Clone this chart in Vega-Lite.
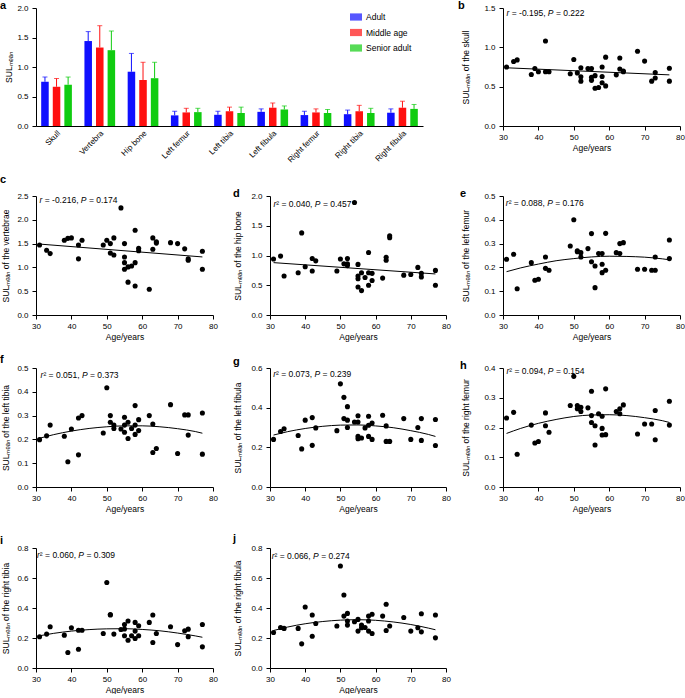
{
 "$schema": "https://vega.github.io/schema/vega-lite/v6.json",
 "padding": 0,
 "background": "white",
 "config": {
  "font": "Liberation Sans",
  "view": {"stroke": null},
  "axis": {"grid": false, "labelFontSize": 8, "titleFontSize": 8.5, "titleFontWeight": "normal", "tickSize": 4, "labelPadding": 3, "titlePadding": 2, "domainColor": "#000", "tickColor": "#000", "labelColor": "#000", "titleColor": "#000", "domainWidth": 1, "tickWidth": 1, "labelOverlap": false, "labelFlush": false},
  "axisY": {"labelPadding": 4},
  "text": {"fontSize": 8.5, "color": "#000", "align": "left", "baseline": "middle"},
  "title": {"fontSize": 11, "fontWeight": "bold", "anchor": "start", "frame": "group", "color": "#000"}
 },
 "datasets": {
  "bars": [
   {"bone": "Skull", "group": "Adult", "mean": 0.75, "upper": 0.83},
   {"bone": "Skull", "group": "Middle age", "mean": 0.665, "upper": 0.805},
   {"bone": "Skull", "group": "Senior adult", "mean": 0.70, "upper": 0.83},
   {"bone": "Vertebra", "group": "Adult", "mean": 1.44, "upper": 1.60},
   {"bone": "Vertebra", "group": "Middle age", "mean": 1.33, "upper": 1.70},
   {"bone": "Vertebra", "group": "Senior adult", "mean": 1.285, "upper": 1.61},
   {"bone": "Hip bone", "group": "Adult", "mean": 0.92, "upper": 1.23},
   {"bone": "Hip bone", "group": "Middle age", "mean": 0.78, "upper": 1.08},
   {"bone": "Hip bone", "group": "Senior adult", "mean": 0.81, "upper": 1.08},
   {"bone": "Left femur", "group": "Adult", "mean": 0.18, "upper": 0.25},
   {"bone": "Left femur", "group": "Middle age", "mean": 0.23, "upper": 0.30},
   {"bone": "Left femur", "group": "Senior adult", "mean": 0.235, "upper": 0.30},
   {"bone": "Left tibia", "group": "Adult", "mean": 0.19, "upper": 0.25},
   {"bone": "Left tibia", "group": "Middle age", "mean": 0.25, "upper": 0.32},
   {"bone": "Left tibia", "group": "Senior adult", "mean": 0.22, "upper": 0.32},
   {"bone": "Left fibula", "group": "Adult", "mean": 0.24, "upper": 0.29},
   {"bone": "Left fibula", "group": "Middle age", "mean": 0.31, "upper": 0.39},
   {"bone": "Left fibula", "group": "Senior adult", "mean": 0.28, "upper": 0.34},
   {"bone": "Right femur", "group": "Adult", "mean": 0.185, "upper": 0.25},
   {"bone": "Right femur", "group": "Middle age", "mean": 0.23, "upper": 0.29},
   {"bone": "Right femur", "group": "Senior adult", "mean": 0.22, "upper": 0.28},
   {"bone": "Right tibia", "group": "Adult", "mean": 0.20, "upper": 0.27},
   {"bone": "Right tibia", "group": "Middle age", "mean": 0.25, "upper": 0.35},
   {"bone": "Right tibia", "group": "Senior adult", "mean": 0.22, "upper": 0.30},
   {"bone": "Right fibula", "group": "Adult", "mean": 0.225, "upper": 0.29},
   {"bone": "Right fibula", "group": "Middle age", "mean": 0.31, "upper": 0.42},
   {"bone": "Right fibula", "group": "Senior adult", "mean": 0.29, "upper": 0.365}
  ],
  "b": [
   {"age":31,"sul":0.75},{"age":33,"sul":0.82},{"age":34,"sul":0.84},{"age":38,"sul":0.655},{"age":39,"sul":0.73},{"age":40,"sul":0.69},{"age":42,"sul":1.08},{"age":42,"sul":0.69},{"age":43,"sul":0.69},{"age":49,"sul":0.665},{"age":50,"sul":0.845},{"age":51,"sul":0.675},{"age":52,"sul":0.74},{"age":52,"sul":0.625},{"age":52,"sul":0.57},{"age":54,"sul":0.73},{"age":55,"sul":0.73},{"age":55,"sul":0.62},{"age":55,"sul":0.58},{"age":56,"sul":0.48},{"age":56,"sul":0.64},{"age":57,"sul":0.49},{"age":58,"sul":0.75},{"age":58,"sul":0.63},{"age":58,"sul":0.55},{"age":59,"sul":0.875},{"age":59,"sul":0.51},{"age":62,"sul":0.65},{"age":63,"sul":0.865},{"age":63,"sul":0.725},{"age":64,"sul":0.70},{"age":64,"sul":0.69},{"age":68,"sul":0.95},{"age":70,"sul":0.825},{"age":72,"sul":0.57},{"age":73,"sul":0.61},{"age":73,"sul":0.68},{"age":77,"sul":0.735},{"age":77,"sul":0.57}
  ],
  "b_fit": [{"age":31,"sul":0.74},{"age":77,"sul":0.65}],
  "c": [
   {"age":31,"sul":1.47},{"age":33,"sul":1.36},{"age":34,"sul":1.29},{"age":38,"sul":1.57},{"age":39,"sul":1.61},{"age":40,"sul":1.62},{"age":42,"sul":1.47},{"age":42,"sul":1.18},{"age":43,"sul":1.57},{"age":49,"sul":1.47},{"age":50,"sul":1.57},{"age":51,"sul":1.50},{"age":51,"sul":1.30},{"age":52,"sul":1.62},{"age":52,"sul":1.26},{"age":54,"sul":2.25},{"age":55,"sul":1.50},{"age":55,"sul":1.22},{"age":55,"sul":1.10},{"age":55,"sul":0.96},{"age":56,"sul":0.69},{"age":56,"sul":1.01},{"age":57,"sul":1.03},{"age":58,"sul":1.10},{"age":58,"sul":1.78},{"age":58,"sul":0.61},{"age":59,"sul":1.40},{"age":59,"sul":1.35},{"age":62,"sul":0.54},{"age":63,"sul":1.62},{"age":63,"sul":1.38},{"age":64,"sul":1.54},{"age":64,"sul":1.51},{"age":68,"sul":1.52},{"age":70,"sul":1.50},{"age":72,"sul":1.39},{"age":73,"sul":1.18},{"age":73,"sul":1.15},{"age":77,"sul":1.34},{"age":77,"sul":0.96}
  ],
  "c_fit": [{"age":31,"sul":1.49},{"age":77,"sul":1.22}],
  "d": [
   {"age":31,"sul":0.94},{"age":33,"sul":0.99},{"age":34,"sul":0.655},{"age":38,"sul":0.71},{"age":39,"sul":1.38},{"age":40,"sul":0.81},{"age":42,"sul":0.95},{"age":42,"sul":0.74},{"age":43,"sul":0.91},{"age":49,"sul":0.74},{"age":50,"sul":0.94},{"age":51,"sul":0.86},{"age":52,"sul":0.95},{"age":52,"sul":0.86},{"age":52,"sul":0.83},{"age":54,"sul":1.89},{"age":55,"sul":0.85},{"age":55,"sul":0.655},{"age":55,"sul":0.61},{"age":55,"sul":0.47},{"age":56,"sul":0.71},{"age":56,"sul":0.41},{"age":57,"sul":0.63},{"age":58,"sul":1.05},{"age":58,"sul":0.71},{"age":58,"sul":0.50},{"age":59,"sul":0.70},{"age":59,"sul":0.58},{"age":62,"sul":0.62},{"age":63,"sul":0.97},{"age":63,"sul":0.92},{"age":64,"sul":1.33},{"age":64,"sul":1.30},{"age":68,"sul":0.67},{"age":70,"sul":0.68},{"age":72,"sul":0.80},{"age":73,"sul":0.70},{"age":73,"sul":0.64},{"age":77,"sul":0.75},{"age":77,"sul":0.50}
  ],
  "d_fit": [{"age":31,"sul":0.88},{"age":77,"sul":0.69}],
  "e": [
   {"age":31,"sul":0.234},{"age":33,"sul":0.255},{"age":34,"sul":0.11},{"age":38,"sul":0.22},{"age":39,"sul":0.146},{"age":40,"sul":0.15},{"age":42,"sul":0.244},{"age":42,"sul":0.196},{"age":43,"sul":0.188},{"age":49,"sul":0.29},{"age":50,"sul":0.40},{"age":51,"sul":0.266},{"age":51,"sul":0.27},{"age":52,"sul":0.262},{"age":52,"sul":0.244},{"age":54,"sul":0.279},{"age":55,"sul":0.342},{"age":55,"sul":0.224},{"age":56,"sul":0.206},{"age":56,"sul":0.115},{"age":57,"sul":0.258},{"age":58,"sul":0.258},{"age":58,"sul":0.213},{"age":58,"sul":0.178},{"age":59,"sul":0.343},{"age":59,"sul":0.188},{"age":62,"sul":0.262},{"age":63,"sul":0.258},{"age":63,"sul":0.30},{"age":64,"sul":0.304},{"age":68,"sul":0.192},{"age":70,"sul":0.192},{"age":72,"sul":0.188},{"age":73,"sul":0.244},{"age":73,"sul":0.188},{"age":77,"sul":0.315},{"age":77,"sul":0.237}
  ],
  "e_fit": [{"age":31,"sul":0.182},{"age":35,"sul":0.198},{"age":40,"sul":0.214},{"age":45,"sul":0.228},{"age":50,"sul":0.237},{"age":55,"sul":0.244},{"age":60,"sul":0.247},{"age":65,"sul":0.246},{"age":70,"sul":0.243},{"age":75,"sul":0.236},{"age":77,"sul":0.232}],
  "f": [
   {"age":31,"sul":0.199},{"age":33,"sul":0.215},{"age":34,"sul":0.26},{"age":38,"sul":0.213},{"age":39,"sul":0.106},{"age":40,"sul":0.244},{"age":42,"sul":0.135},{"age":42,"sul":0.29},{"age":43,"sul":0.30},{"age":49,"sul":0.227},{"age":50,"sul":0.417},{"age":51,"sul":0.30},{"age":51,"sul":0.272},{"age":52,"sul":0.26},{"age":52,"sul":0.246},{"age":54,"sul":0.244},{"age":55,"sul":0.293},{"age":55,"sul":0.26},{"age":55,"sul":0.23},{"age":56,"sul":0.204},{"age":56,"sul":0.272},{"age":57,"sul":0.246},{"age":58,"sul":0.342},{"age":58,"sul":0.26},{"age":58,"sul":0.221},{"age":59,"sul":0.283},{"age":59,"sul":0.237},{"age":62,"sul":0.30},{"age":63,"sul":0.265},{"age":63,"sul":0.145},{"age":64,"sul":0.162},{"age":68,"sul":0.346},{"age":70,"sul":0.141},{"age":72,"sul":0.303},{"age":73,"sul":0.303},{"age":73,"sul":0.218},{"age":77,"sul":0.311},{"age":77,"sul":0.138}
  ],
  "f_fit": [{"age":31,"sul":0.205},{"age":35,"sul":0.22},{"age":40,"sul":0.235},{"age":45,"sul":0.246},{"age":50,"sul":0.253},{"age":55,"sul":0.257},{"age":60,"sul":0.257},{"age":65,"sul":0.253},{"age":70,"sul":0.245},{"age":75,"sul":0.233},{"age":77,"sul":0.226}],
  "g": [
   {"age":31,"sul":0.24},{"age":33,"sul":0.28},{"age":34,"sul":0.294},{"age":38,"sul":0.26},{"age":39,"sul":0.192},{"age":40,"sul":0.337},{"age":42,"sul":0.21},{"age":42,"sul":0.35},{"age":43,"sul":0.298},{"age":49,"sul":0.284},{"age":50,"sul":0.52},{"age":51,"sul":0.452},{"age":51,"sul":0.345},{"age":52,"sul":0.405},{"age":52,"sul":0.337},{"age":52,"sul":0.30},{"age":54,"sul":0.328},{"age":55,"sul":0.359},{"age":55,"sul":0.328},{"age":55,"sul":0.255},{"age":55,"sul":0.243},{"age":56,"sul":0.247},{"age":57,"sul":0.298},{"age":58,"sul":0.357},{"age":58,"sul":0.311},{"age":58,"sul":0.255},{"age":59,"sul":0.323},{"age":59,"sul":0.24},{"age":62,"sul":0.362},{"age":63,"sul":0.308},{"age":63,"sul":0.23},{"age":64,"sul":0.23},{"age":68,"sul":0.345},{"age":70,"sul":0.24},{"age":72,"sul":0.30},{"age":73,"sul":0.345},{"age":73,"sul":0.235},{"age":77,"sul":0.34},{"age":77,"sul":0.209}
  ],
  "g_fit": [{"age":31,"sul":0.262},{"age":35,"sul":0.279},{"age":40,"sul":0.295},{"age":45,"sul":0.306},{"age":50,"sul":0.312},{"age":55,"sul":0.313},{"age":60,"sul":0.308},{"age":65,"sul":0.299},{"age":70,"sul":0.284},{"age":75,"sul":0.265},{"age":77,"sul":0.255}],
  "h": [
   {"age":31,"sul":0.232},{"age":33,"sul":0.251},{"age":34,"sul":0.11},{"age":38,"sul":0.208},{"age":39,"sul":0.148},{"age":40,"sul":0.153},{"age":42,"sul":0.249},{"age":42,"sul":0.206},{"age":43,"sul":0.184},{"age":49,"sul":0.274},{"age":50,"sul":0.372},{"age":51,"sul":0.274},{"age":51,"sul":0.263},{"age":52,"sul":0.268},{"age":52,"sul":0.254},{"age":54,"sul":0.266},{"age":55,"sul":0.322},{"age":55,"sul":0.24},{"age":55,"sul":0.217},{"age":56,"sul":0.206},{"age":56,"sul":0.141},{"age":57,"sul":0.246},{"age":58,"sul":0.238},{"age":58,"sul":0.197},{"age":58,"sul":0.175},{"age":59,"sul":0.33},{"age":59,"sul":0.176},{"age":62,"sul":0.254},{"age":63,"sul":0.246},{"age":63,"sul":0.263},{"age":64,"sul":0.276},{"age":68,"sul":0.178},{"age":70,"sul":0.212},{"age":72,"sul":0.212},{"age":73,"sul":0.257},{"age":73,"sul":0.159},{"age":77,"sul":0.288},{"age":77,"sul":0.208}
  ],
  "h_fit": [{"age":31,"sul":0.18},{"age":35,"sul":0.197},{"age":40,"sul":0.214},{"age":45,"sul":0.227},{"age":50,"sul":0.237},{"age":55,"sul":0.242},{"age":60,"sul":0.243},{"age":65,"sul":0.24},{"age":70,"sul":0.233},{"age":75,"sul":0.223},{"age":77,"sul":0.217}],
  "i": [
   {"age":31,"sul":0.208},{"age":33,"sul":0.226},{"age":34,"sul":0.275},{"age":38,"sul":0.219},{"age":39,"sul":0.103},{"age":40,"sul":0.268},{"age":42,"sul":0.252},{"age":42,"sul":0.125},{"age":43,"sul":0.252},{"age":49,"sul":0.23},{"age":50,"sul":0.57},{"age":51,"sul":0.357},{"age":51,"sul":0.353},{"age":52,"sul":0.226},{"age":54,"sul":0.257},{"age":55,"sul":0.29},{"age":55,"sul":0.215},{"age":55,"sul":0.26},{"age":56,"sul":0.313},{"age":56,"sul":0.185},{"age":57,"sul":0.215},{"age":58,"sul":0.304},{"age":58,"sul":0.246},{"age":58,"sul":0.197},{"age":59,"sul":0.282},{"age":59,"sul":0.215},{"age":62,"sul":0.304},{"age":63,"sul":0.353},{"age":63,"sul":0.17},{"age":64,"sul":0.23},{"age":68,"sul":0.275},{"age":70,"sul":0.156},{"age":72,"sul":0.248},{"age":73,"sul":0.259},{"age":73,"sul":0.208},{"age":77,"sul":0.29},{"age":77,"sul":0.141}
  ],
  "i_fit": [{"age":31,"sul":0.215},{"age":35,"sul":0.231},{"age":40,"sul":0.246},{"age":45,"sul":0.256},{"age":50,"sul":0.261},{"age":55,"sul":0.262},{"age":60,"sul":0.257},{"age":65,"sul":0.248},{"age":70,"sul":0.233},{"age":75,"sul":0.214},{"age":77,"sul":0.205}],
  "j": [
   {"age":31,"sul":0.237},{"age":33,"sul":0.27},{"age":34,"sul":0.264},{"age":38,"sul":0.264},{"age":39,"sul":0.161},{"age":40,"sul":0.407},{"age":42,"sul":0.353},{"age":42,"sul":0.212},{"age":43,"sul":0.297},{"age":49,"sul":0.28},{"age":50,"sul":0.68},{"age":51,"sul":0.487},{"age":51,"sul":0.346},{"age":52,"sul":0.364},{"age":52,"sul":0.313},{"age":52,"sul":0.286},{"age":54,"sul":0.308},{"age":55,"sul":0.324},{"age":55,"sul":0.246},{"age":56,"sul":0.286},{"age":56,"sul":0.268},{"age":57,"sul":0.27},{"age":58,"sul":0.346},{"age":58,"sul":0.313},{"age":58,"sul":0.246},{"age":59,"sul":0.358},{"age":59,"sul":0.23},{"age":62,"sul":0.346},{"age":63,"sul":0.425},{"age":63,"sul":0.25},{"age":64,"sul":0.28},{"age":68,"sul":0.337},{"age":70,"sul":0.246},{"age":72,"sul":0.268},{"age":73,"sul":0.362},{"age":73,"sul":0.241},{"age":77,"sul":0.353},{"age":77,"sul":0.201}
  ],
  "j_fit": [{"age":31,"sul":0.25},{"age":35,"sul":0.273},{"age":40,"sul":0.295},{"age":45,"sul":0.31},{"age":50,"sul":0.319},{"age":55,"sul":0.322},{"age":60,"sul":0.318},{"age":65,"sul":0.307},{"age":70,"sul":0.29},{"age":75,"sul":0.266},{"age":77,"sul":0.255}]
 },
 "spacing": 10,
 "vconcat": [
  {
   "bounds": "flush",
   "spacing": 80,
   "hconcat": [
    {
     "width": 387, "height": 118,
     "title": {"text": "a", "dx": -36, "offset": -7},
     "data": {"name": "bars"},
     "encoding": {
      "x": {"field": "bone", "type": "nominal", "sort": ["Skull","Vertebra","Hip bone","Left femur","Left tibia","Left fibula","Right femur","Right tibia","Right fibula"], "scale": {"paddingInner": 0.29, "paddingOuter": 0.12}, "axis": {"title": null, "labelAngle": -45, "ticks": false, "labelFontSize": 8, "labelOverlap": false}},
      "xOffset": {"field": "group", "type": "nominal", "sort": ["Adult","Middle age","Senior adult"], "scale": {"paddingInner": 0.35, "paddingOuter": 0}},
      "color": {"field": "group", "type": "nominal", "scale": {"domain": ["Adult","Middle age","Senior adult"], "range": ["#1010ff","#ff1010","#10cc10"]}, "legend": {"orient": "none", "legendX": 314, "legendY": 3, "title": null, "symbolType": "M-1,-0.6H1V0.6H-1Z", "symbolSize": 144, "symbolStrokeWidth": 0, "labelFontSize": 8.5, "labelColor": "#000", "rowPadding": 4.5, "padding": 0, "labelOffset": 4}}
     },
     "layer": [
      {"mark": {"type": "bar"}, "encoding": {"y": {"field": "mean", "type": "quantitative", "scale": {"domain": [0, 2], "nice": false}, "axis": {"title": "SULₘₑₐₙ", "values": [0, 0.5, 1, 1.5, 2], "tickCount": 20, "format": ".1f", "titlePadding": 3, "labelOverlap": false}}}},
      {"mark": {"type": "rule", "strokeWidth": 1}, "encoding": {"y": {"field": "mean", "type": "quantitative"}, "y2": {"field": "upper"}}},
      {"mark": {"type": "tick", "thickness": 1, "size": 5}, "encoding": {"y": {"field": "upper", "type": "quantitative"}}}
     ]
    },
    {
     "width": 177, "height": 118,
     "title": {"text": "b", "dx": -45, "offset": -7},
     "layer": [
      {"data": {"name": "b"}, "mark": {"type": "circle", "size": 26, "opacity": 1, "color": "#000"},
       "encoding": {"x": {"field": "age", "type": "quantitative", "scale": {"domain": [30, 80], "nice": false, "zero": false}, "axis": {"title": "Age/years", "values": [30,40,50,60,70,80], "tickCount": 20, "labelOverlap": false}},
                    "y": {"field": "sul", "type": "quantitative", "scale": {"domain": [0, 1.5], "nice": false}, "axis": {"title": "SULₘₑₐₙ of the skull", "values": [0,0.5,1,1.5], "tickCount": 20, "format": ".1f", "titlePadding": 13, "labelOverlap": false}}}},
      {"data": {"name": "b_fit"}, "mark": {"type": "line", "color": "#000", "strokeWidth": 1}, "encoding": {"x": {"field": "age", "type": "quantitative"}, "y": {"field": "sul", "type": "quantitative"}}},
      {"data": {"values": [{"t": "r"}]}, "mark": {"type": "text", "dy": 5, "fontStyle": "italic"}, "encoding": {"x": {"datum": 31}, "y": {"datum": 1.5}, "text": {"field": "t"}}},
      {"data": {"values": [{"t": "= -0.195,"}]}, "mark": {"type": "text", "dy": 5, "dx": 5.2}, "encoding": {"x": {"datum": 31}, "y": {"datum": 1.5}, "text": {"field": "t"}}},
      {"data": {"values": [{"t": "P"}]}, "mark": {"type": "text", "dy": 5, "dx": 41.3, "fontStyle": "italic"}, "encoding": {"x": {"datum": 31}, "y": {"datum": 1.5}, "text": {"field": "t"}}},
      {"data": {"values": [{"t": "= 0.222"}]}, "mark": {"type": "text", "dy": 5, "dx": 49.4}, "encoding": {"x": {"datum": 31}, "y": {"datum": 1.5}, "text": {"field": "t"}}}
     ]
    }
   ]
  },
  {
   "spacing": 13,
   "vconcat": [
    {
     "bounds": "flush",
     "spacing": 57,
     "hconcat": [
      {
       "width": 177, "height": 119,
       "title": {"text": "c", "dx": -36, "offset": 7},
       "layer": [
        {"data": {"name": "c"}, "mark": {"type": "circle", "size": 26, "opacity": 1, "color": "#000"},
         "encoding": {"x": {"field": "age", "type": "quantitative", "scale": {"domain": [30, 80], "nice": false, "zero": false}, "axis": {"title": "Age/years", "values": [30,40,50,60,70,80], "tickCount": 20, "labelOverlap": false}},
                      "y": {"field": "sul", "type": "quantitative", "scale": {"domain": [0, 2.5], "nice": false}, "axis": {"title": "SULₘₑₐₙ of the vertebrae", "values": [0,0.5,1,1.5,2,2.5], "tickCount": 20, "format": ".1f", "titlePadding": 6, "labelOverlap": false}}}},
        {"data": {"name": "c_fit"}, "mark": {"type": "line", "color": "#000", "strokeWidth": 1}, "encoding": {"x": {"field": "age", "type": "quantitative"}, "y": {"field": "sul", "type": "quantitative"}}},
        {"data": {"values": [{"t": "r"}]}, "mark": {"type": "text", "dy": 4, "fontStyle": "italic"}, "encoding": {"x": {"datum": 31}, "y": {"datum": 2.5}, "text": {"field": "t"}}},
        {"data": {"values": [{"t": "= -0.216,"}]}, "mark": {"type": "text", "dy": 4, "dx": 5.2}, "encoding": {"x": {"datum": 31}, "y": {"datum": 2.5}, "text": {"field": "t"}}},
        {"data": {"values": [{"t": "P"}]}, "mark": {"type": "text", "dy": 4, "dx": 41.3, "fontStyle": "italic"}, "encoding": {"x": {"datum": 31}, "y": {"datum": 2.5}, "text": {"field": "t"}}},
        {"data": {"values": [{"t": "= 0.174"}]}, "mark": {"type": "text", "dy": 4, "dx": 49.4}, "encoding": {"x": {"datum": 31}, "y": {"datum": 2.5}, "text": {"field": "t"}}}
       ]
      },
      {
       "width": 176, "height": 119,
       "title": {"text": "d", "dx": -37, "offset": -7},
       "layer": [
        {"data": {"name": "d"}, "mark": {"type": "circle", "size": 26, "opacity": 1, "color": "#000"},
         "encoding": {"x": {"field": "age", "type": "quantitative", "scale": {"domain": [30, 80], "nice": false, "zero": false}, "axis": {"title": "Age/years", "values": [30,40,50,60,70,80], "tickCount": 20, "labelOverlap": false}},
                      "y": {"field": "sul", "type": "quantitative", "scale": {"domain": [0, 2], "nice": false}, "axis": {"title": "SULₘₑₐₙ of the hip bone", "values": [0,0.5,1,1.5,2], "tickCount": 20, "format": ".1f", "titlePadding": 8, "labelOverlap": false}}}},
        {"data": {"name": "d_fit"}, "mark": {"type": "line", "color": "#000", "strokeWidth": 1}, "encoding": {"x": {"field": "age", "type": "quantitative"}, "y": {"field": "sul", "type": "quantitative"}}},
        {"data": {"values": [{"t": "r"}]}, "mark": {"type": "text", "dy": 8, "fontStyle": "italic"}, "encoding": {"x": {"datum": 31}, "y": {"datum": 2}, "text": {"field": "t"}}},
        {"data": {"values": [{"t": "² = 0.040,"}]}, "mark": {"type": "text", "dy": 8, "dx": 2.8}, "encoding": {"x": {"datum": 31}, "y": {"datum": 2}, "text": {"field": "t"}}},
        {"data": {"values": [{"t": "P"}]}, "mark": {"type": "text", "dy": 8, "dx": 41.3, "fontStyle": "italic"}, "encoding": {"x": {"datum": 31}, "y": {"datum": 2}, "text": {"field": "t"}}},
        {"data": {"values": [{"t": "= 0.457"}]}, "mark": {"type": "text", "dy": 8, "dx": 49.4}, "encoding": {"x": {"datum": 31}, "y": {"datum": 2}, "text": {"field": "t"}}}
       ]
      },
      {
       "width": 177, "height": 119,
       "title": {"text": "e", "dx": -43, "offset": -7},
       "layer": [
        {"data": {"name": "e"}, "mark": {"type": "circle", "size": 26, "opacity": 1, "color": "#000"},
         "encoding": {"x": {"field": "age", "type": "quantitative", "scale": {"domain": [30, 80], "nice": false, "zero": false}, "axis": {"title": "Age/years", "values": [30,40,50,60,70,80], "tickCount": 20, "labelOverlap": false}},
                      "y": {"field": "sul", "type": "quantitative", "scale": {"domain": [0, 0.5], "nice": false}, "axis": {"title": "SULₘₑₐₙ of the left femur", "values": [0,0.1,0.2,0.3,0.4,0.5], "tickCount": 20, "format": ".1f", "titlePadding": 13, "labelOverlap": false}}}},
        {"data": {"name": "e_fit"}, "mark": {"type": "line", "color": "#000", "strokeWidth": 1, "interpolate": "monotone"}, "encoding": {"x": {"field": "age", "type": "quantitative"}, "y": {"field": "sul", "type": "quantitative"}}},
        {"data": {"values": [{"t": "r"}]}, "mark": {"type": "text", "dy": 7, "fontStyle": "italic"}, "encoding": {"x": {"datum": 30.8}, "y": {"datum": 0.5}, "text": {"field": "t"}}},
        {"data": {"values": [{"t": "² = 0.088,"}]}, "mark": {"type": "text", "dy": 7, "dx": 2.8}, "encoding": {"x": {"datum": 30.8}, "y": {"datum": 0.5}, "text": {"field": "t"}}},
        {"data": {"values": [{"t": "P"}]}, "mark": {"type": "text", "dy": 7, "dx": 41.3, "fontStyle": "italic"}, "encoding": {"x": {"datum": 30.8}, "y": {"datum": 0.5}, "text": {"field": "t"}}},
        {"data": {"values": [{"t": "= 0.176"}]}, "mark": {"type": "text", "dy": 7, "dx": 49.4}, "encoding": {"x": {"datum": 30.8}, "y": {"datum": 0.5}, "text": {"field": "t"}}}
       ]
      }
     ]
    },
    {
     "spacing": 20,
     "vconcat": [
      {
       "bounds": "flush",
       "spacing": 57,
       "hconcat": [
        {
         "width": 177, "height": 119,
         "title": {"text": "f", "dx": -36, "offset": -1},
         "layer": [
          {"data": {"name": "f"}, "mark": {"type": "circle", "size": 26, "opacity": 1, "color": "#000"},
           "encoding": {"x": {"field": "age", "type": "quantitative", "scale": {"domain": [30, 80], "nice": false, "zero": false}, "axis": {"title": "Age/years", "values": [30,40,50,60,70,80], "tickCount": 20, "labelOverlap": false}},
                        "y": {"field": "sul", "type": "quantitative", "scale": {"domain": [0, 0.5], "nice": false}, "axis": {"title": "SULₘₑₐₙ of the left tibia", "values": [0,0.1,0.2,0.3,0.4,0.5], "tickCount": 20, "format": ".1f", "titlePadding": 6, "labelOverlap": false}}}},
          {"data": {"name": "f_fit"}, "mark": {"type": "line", "color": "#000", "strokeWidth": 1, "interpolate": "monotone"}, "encoding": {"x": {"field": "age", "type": "quantitative"}, "y": {"field": "sul", "type": "quantitative"}}},
          {"data": {"values": [{"t": "r"}]}, "mark": {"type": "text", "dy": 7, "fontStyle": "italic"}, "encoding": {"x": {"datum": 31.3}, "y": {"datum": 0.5}, "text": {"field": "t"}}},
          {"data": {"values": [{"t": "² = 0.051,"}]}, "mark": {"type": "text", "dy": 7, "dx": 2.8}, "encoding": {"x": {"datum": 31.3}, "y": {"datum": 0.5}, "text": {"field": "t"}}},
          {"data": {"values": [{"t": "P"}]}, "mark": {"type": "text", "dy": 7, "dx": 41.3, "fontStyle": "italic"}, "encoding": {"x": {"datum": 31.3}, "y": {"datum": 0.5}, "text": {"field": "t"}}},
          {"data": {"values": [{"t": "= 0.373"}]}, "mark": {"type": "text", "dy": 7, "dx": 49.4}, "encoding": {"x": {"datum": 31.3}, "y": {"datum": 0.5}, "text": {"field": "t"}}}
         ]
        },
        {
         "width": 176, "height": 119,
         "title": {"text": "g", "dx": -37, "offset": -3},
         "layer": [
          {"data": {"name": "g"}, "mark": {"type": "circle", "size": 26, "opacity": 1, "color": "#000"},
           "encoding": {"x": {"field": "age", "type": "quantitative", "scale": {"domain": [30, 80], "nice": false, "zero": false}, "axis": {"title": "Age/years", "values": [30,40,50,60,70,80], "tickCount": 20, "labelOverlap": false}},
                        "y": {"field": "sul", "type": "quantitative", "scale": {"domain": [0, 0.6], "nice": false}, "axis": {"title": "SULₘₑₐₙ of the left fibula", "values": [0,0.2,0.4,0.6], "tickCount": 20, "format": ".1f", "titlePadding": 8, "labelOverlap": false}}}},
          {"data": {"name": "g_fit"}, "mark": {"type": "line", "color": "#000", "strokeWidth": 1, "interpolate": "monotone"}, "encoding": {"x": {"field": "age", "type": "quantitative"}, "y": {"field": "sul", "type": "quantitative"}}},
          {"data": {"values": [{"t": "r"}]}, "mark": {"type": "text", "dy": 6, "fontStyle": "italic"}, "encoding": {"x": {"datum": 30.9}, "y": {"datum": 0.6}, "text": {"field": "t"}}},
          {"data": {"values": [{"t": "² = 0.073,"}]}, "mark": {"type": "text", "dy": 6, "dx": 2.8}, "encoding": {"x": {"datum": 30.9}, "y": {"datum": 0.6}, "text": {"field": "t"}}},
          {"data": {"values": [{"t": "P"}]}, "mark": {"type": "text", "dy": 6, "dx": 41.3, "fontStyle": "italic"}, "encoding": {"x": {"datum": 30.9}, "y": {"datum": 0.6}, "text": {"field": "t"}}},
          {"data": {"values": [{"t": "= 0.239"}]}, "mark": {"type": "text", "dy": 6, "dx": 49.4}, "encoding": {"x": {"datum": 30.9}, "y": {"datum": 0.6}, "text": {"field": "t"}}}
         ]
        },
        {
         "width": 177, "height": 119,
         "title": {"text": "h", "dx": -43, "offset": -7},
         "layer": [
          {"data": {"name": "h"}, "mark": {"type": "circle", "size": 26, "opacity": 1, "color": "#000"},
           "encoding": {"x": {"field": "age", "type": "quantitative", "scale": {"domain": [30, 80], "nice": false, "zero": false}, "axis": {"title": "Age/years", "values": [30,40,50,60,70,80], "tickCount": 20, "labelOverlap": false}},
                        "y": {"field": "sul", "type": "quantitative", "scale": {"domain": [0, 0.4], "nice": false}, "axis": {"title": "SULₘₑₐₙ of the right femur", "values": [0,0.1,0.2,0.3,0.4], "tickCount": 20, "format": ".1f", "titlePadding": 13, "labelOverlap": false}}}},
          {"data": {"name": "h_fit"}, "mark": {"type": "line", "color": "#000", "strokeWidth": 1, "interpolate": "monotone"}, "encoding": {"x": {"field": "age", "type": "quantitative"}, "y": {"field": "sul", "type": "quantitative"}}},
          {"data": {"values": [{"t": "r"}]}, "mark": {"type": "text", "dy": 3, "fontStyle": "italic"}, "encoding": {"x": {"datum": 31}, "y": {"datum": 0.4}, "text": {"field": "t"}}},
          {"data": {"values": [{"t": "² = 0.094,"}]}, "mark": {"type": "text", "dy": 3, "dx": 2.8}, "encoding": {"x": {"datum": 31}, "y": {"datum": 0.4}, "text": {"field": "t"}}},
          {"data": {"values": [{"t": "P"}]}, "mark": {"type": "text", "dy": 3, "dx": 41.3, "fontStyle": "italic"}, "encoding": {"x": {"datum": 31}, "y": {"datum": 0.4}, "text": {"field": "t"}}},
          {"data": {"values": [{"t": "= 0.154"}]}, "mark": {"type": "text", "dy": 3, "dx": 49.4}, "encoding": {"x": {"datum": 31}, "y": {"datum": 0.4}, "text": {"field": "t"}}}
         ]
        }
       ]
      },
      {
       "bounds": "flush",
       "spacing": 57,
       "hconcat": [
        {
         "width": 177, "height": 120,
         "title": {"text": "i", "dx": -36, "offset": -2},
         "layer": [
          {"data": {"name": "i"}, "mark": {"type": "circle", "size": 26, "opacity": 1, "color": "#000"},
           "encoding": {"x": {"field": "age", "type": "quantitative", "scale": {"domain": [30, 80], "nice": false, "zero": false}, "axis": {"title": "Age/years", "values": [30,40,50,60,70,80], "tickCount": 20, "labelOverlap": false}},
                        "y": {"field": "sul", "type": "quantitative", "scale": {"domain": [0, 0.8], "nice": false}, "axis": {"title": "SULₘₑₐₙ of the right tibia", "values": [0,0.2,0.4,0.6,0.8], "tickCount": 20, "format": ".1f", "titlePadding": 6, "labelOverlap": false}}}},
          {"data": {"name": "i_fit"}, "mark": {"type": "line", "color": "#000", "strokeWidth": 1, "interpolate": "monotone"}, "encoding": {"x": {"field": "age", "type": "quantitative"}, "y": {"field": "sul", "type": "quantitative"}}},
          {"data": {"values": [{"t": "r"}]}, "mark": {"type": "text", "dy": 7, "fontStyle": "italic"}, "encoding": {"x": {"datum": 30.3}, "y": {"datum": 0.8}, "text": {"field": "t"}}},
          {"data": {"values": [{"t": "² = 0.060,"}]}, "mark": {"type": "text", "dy": 7, "dx": 2.8}, "encoding": {"x": {"datum": 30.3}, "y": {"datum": 0.8}, "text": {"field": "t"}}},
          {"data": {"values": [{"t": "P"}]}, "mark": {"type": "text", "dy": 7, "dx": 41.3, "fontStyle": "italic"}, "encoding": {"x": {"datum": 30.3}, "y": {"datum": 0.8}, "text": {"field": "t"}}},
          {"data": {"values": [{"t": "= 0.309"}]}, "mark": {"type": "text", "dy": 7, "dx": 49.4}, "encoding": {"x": {"datum": 30.3}, "y": {"datum": 0.8}, "text": {"field": "t"}}}
         ]
        },
        {
         "width": 176, "height": 120,
         "title": {"text": "j", "dx": -37, "offset": 0},
         "layer": [
          {"data": {"name": "j"}, "mark": {"type": "circle", "size": 26, "opacity": 1, "color": "#000"},
           "encoding": {"x": {"field": "age", "type": "quantitative", "scale": {"domain": [30, 80], "nice": false, "zero": false}, "axis": {"title": "Age/years", "values": [30,40,50,60,70,80], "tickCount": 20, "labelOverlap": false}},
                        "y": {"field": "sul", "type": "quantitative", "scale": {"domain": [0, 0.8], "nice": false}, "axis": {"title": "SULₘₑₐₙ of the right fibula", "values": [0,0.2,0.4,0.6,0.8], "tickCount": 20, "format": ".1f", "titlePadding": 8, "labelOverlap": false}}}},
          {"data": {"name": "j_fit"}, "mark": {"type": "line", "color": "#000", "strokeWidth": 1, "interpolate": "monotone"}, "encoding": {"x": {"field": "age", "type": "quantitative"}, "y": {"field": "sul", "type": "quantitative"}}},
          {"data": {"values": [{"t": "r"}]}, "mark": {"type": "text", "dy": 8, "fontStyle": "italic"}, "encoding": {"x": {"datum": 30.5}, "y": {"datum": 0.8}, "text": {"field": "t"}}},
          {"data": {"values": [{"t": "² = 0.066,"}]}, "mark": {"type": "text", "dy": 8, "dx": 2.8}, "encoding": {"x": {"datum": 30.5}, "y": {"datum": 0.8}, "text": {"field": "t"}}},
          {"data": {"values": [{"t": "P"}]}, "mark": {"type": "text", "dy": 8, "dx": 41.3, "fontStyle": "italic"}, "encoding": {"x": {"datum": 30.5}, "y": {"datum": 0.8}, "text": {"field": "t"}}},
          {"data": {"values": [{"t": "= 0.274"}]}, "mark": {"type": "text", "dy": 8, "dx": 49.4}, "encoding": {"x": {"datum": 30.5}, "y": {"datum": 0.8}, "text": {"field": "t"}}}
         ]
        }
       ]
      }
     ]
    }
   ]
  }
 ]
}
